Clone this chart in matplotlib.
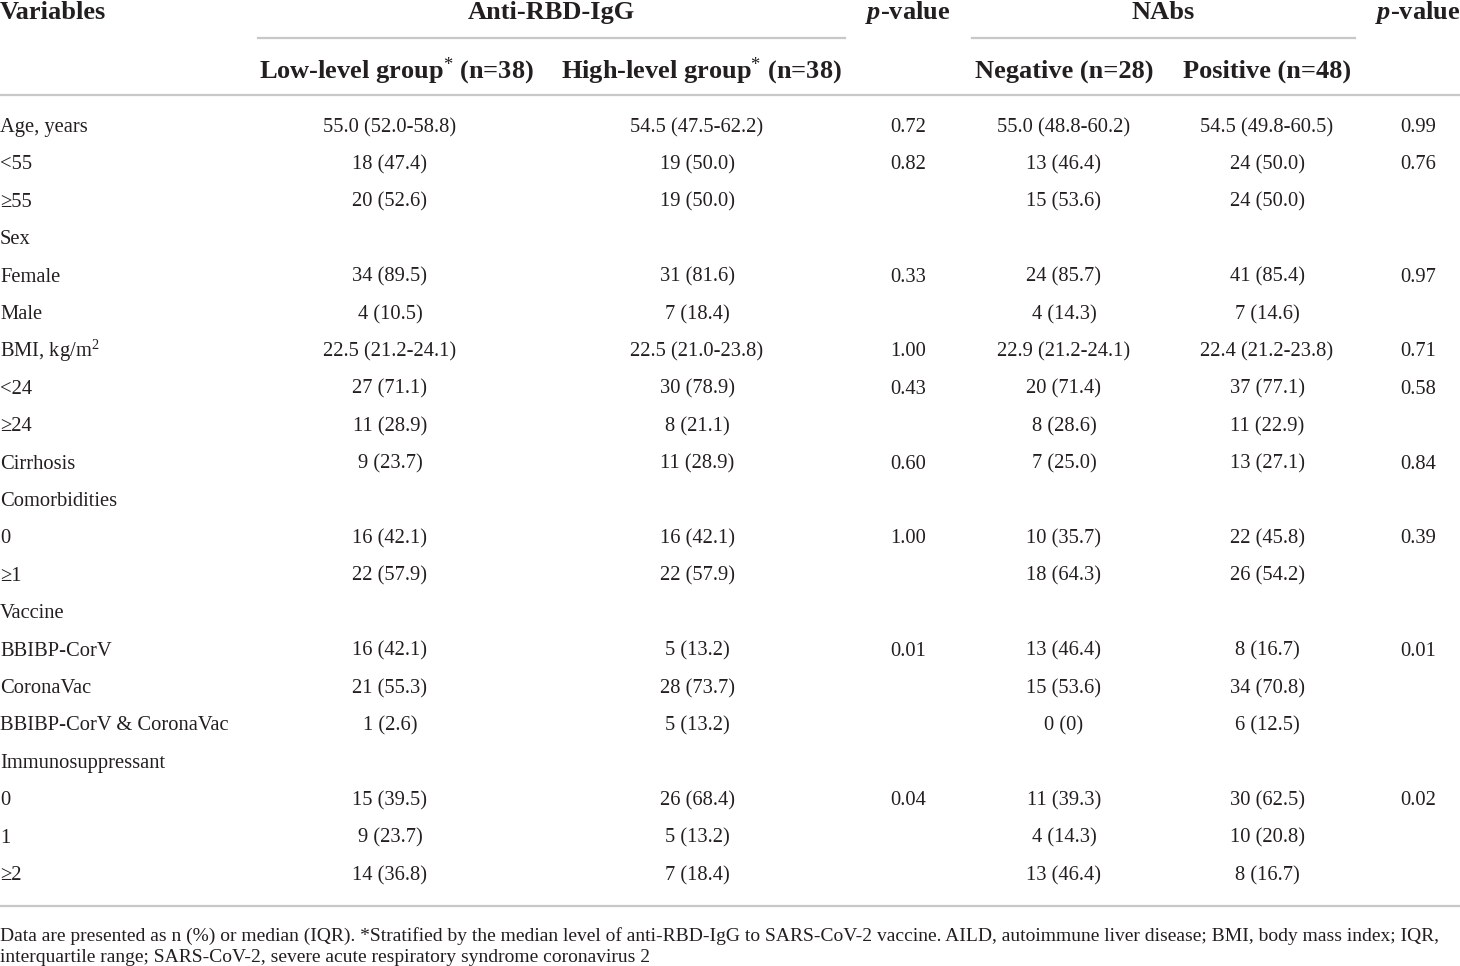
import matplotlib
matplotlib.use("Agg")
import matplotlib.pyplot as plt

plt.rcParams['font.family'] = ['Liberation Serif', 'DejaVu Serif']
plt.rcParams['mathtext.fontset'] = 'custom'
plt.rcParams['mathtext.rm'] = 'Liberation Serif'
plt.rcParams['mathtext.it'] = 'Liberation Serif:italic:bold'
plt.rcParams['mathtext.bf'] = 'Liberation Serif:bold'

# table content
variables = ["Age, years", "<55", "≥55", "Sex", "Female", "Male", "BMI, kg/m$^2$",
             "<24", "≥24", "Cirrhosis", "Comorbidities", "0", "≥1", "Vaccine",
             "BBIBP-CorV", "CoronaVac", "BBIBP-CorV & CoronaVac", "Immunosuppressant",
             "0", "1", "≥2"]
low_level = ["55.0 (52.0-58.8)", "18 (47.4)", "20 (52.6)", "", "34 (89.5)", "4 (10.5)",
             "22.5 (21.2-24.1)", "27 (71.1)", "11 (28.9)", "9 (23.7)", "", "16 (42.1)",
             "22 (57.9)", "", "16 (42.1)", "21 (55.3)", "1 (2.6)", "", "15 (39.5)",
             "9 (23.7)", "14 (36.8)"]
high_level = ["54.5 (47.5-62.2)", "19 (50.0)", "19 (50.0)", "", "31 (81.6)", "7 (18.4)",
              "22.5 (21.0-23.8)", "30 (78.9)", "8 (21.1)", "11 (28.9)", "", "16 (42.1)",
              "22 (57.9)", "", "5 (13.2)", "28 (73.7)", "5 (13.2)", "", "26 (68.4)",
              "5 (13.2)", "7 (18.4)"]
p_igg = ["0.72", "0.82", "", "", "0.33", "", "1.00", "0.43", "", "0.60", "", "1.00",
         "", "", "0.01", "", "", "", "0.04", "", ""]
negative = ["55.0 (48.8-60.2)", "13 (46.4)", "15 (53.6)", "", "24 (85.7)", "4 (14.3)",
            "22.9 (21.2-24.1)", "20 (71.4)", "8 (28.6)", "7 (25.0)", "", "10 (35.7)",
            "18 (64.3)", "", "13 (46.4)", "15 (53.6)", "0 (0)", "", "11 (39.3)",
            "4 (14.3)", "13 (46.4)"]
positive = ["54.5 (49.8-60.5)", "24 (50.0)", "24 (50.0)", "", "41 (85.4)", "7 (14.6)",
            "22.4 (21.2-23.8)", "37 (77.1)", "11 (22.9)", "13 (27.1)", "", "22 (45.8)",
            "26 (54.2)", "", "8 (16.7)", "34 (70.8)", "6 (12.5)", "", "30 (62.5)",
            "10 (20.8)", "8 (16.7)"]
p_nabs = ["0.99", "0.76", "", "", "0.97", "", "0.71", "0.58", "", "0.84", "", "0.39",
          "", "", "0.01", "", "", "", "0.02", "", ""]

sub_headers = ["Low-level group$^{*}$ (n=38)", "High-level group$^{*}$ (n=38)",
               "Negative (n=28)", "Positive (n=48)"]
footnote = ["Data are presented as n (%) or median (IQR). *Stratified by the median level of "
            "anti-RBD-IgG to SARS-CoV-2 vaccine. AILD, autoimmune liver disease; BMI, body mass index; IQR,",
            "interquartile range; SARS-CoV-2, severe acute respiratory syndrome coronavirus 2"]

ink = '#231f20'
rule = '#c8c8c8'

fig = plt.figure(figsize=(14.6, 9.66), dpi=100)
ax = fig.add_axes([0, 0, 1, 1])
ax.set_xlim(0, 1460)
ax.set_ylim(966, 0)
ax.axis('off')

# header
hfs = 19
ax.text(0, 19, "Variables", fontsize=hfs, fontweight='bold', color=ink, va='baseline')
ax.text(551, 19, "Anti-RBD-IgG", fontsize=hfs, fontweight='bold', color=ink, ha='center', va='baseline')
ax.text(908, 19, "$p$-value", fontsize=hfs, fontweight='bold', color=ink, ha='center', va='baseline')
ax.text(1163, 19, "NAbs", fontsize=hfs, fontweight='bold', color=ink, ha='center', va='baseline')
ax.text(1418, 19, "$p$-value", fontsize=hfs, fontweight='bold', color=ink, ha='center', va='baseline')

ax.plot([258, 845], [38, 38], color=rule, lw=1.6)
ax.plot([972, 1355], [38, 38], color=rule, lw=1.6)

sub_x = [396, 701, 1064, 1267]
for x, s in zip(sub_x, sub_headers):
    ax.text(x, 78, s, fontsize=hfs, fontweight='bold', color=ink, ha='center', va='baseline')

ax.plot([0, 1460], [95, 95], color=rule, lw=1.6)

# body
col_x = [390, 697, 908, 1064, 1267, 1418]
cols = [low_level, high_level, p_igg, negative, positive, p_nabs]
bfs = 14.8
for i, name in enumerate(variables):
    y = 132 + i * 37.4
    ax.text(0, y, name, fontsize=bfs, color=ink, va='baseline')
    for x, col in zip(col_x, cols):
        if col[i]:
            ax.text(x, y, col[i], fontsize=bfs, color=ink, ha='center', va='baseline')

ax.plot([0, 1460], [906, 906], color=rule, lw=1.6)

# footnote
for j, line in enumerate(footnote):
    ax.text(0, 941 + j * 21, line, fontsize=14, color=ink, va='baseline')

fig.savefig("out.png", dpi=100)
